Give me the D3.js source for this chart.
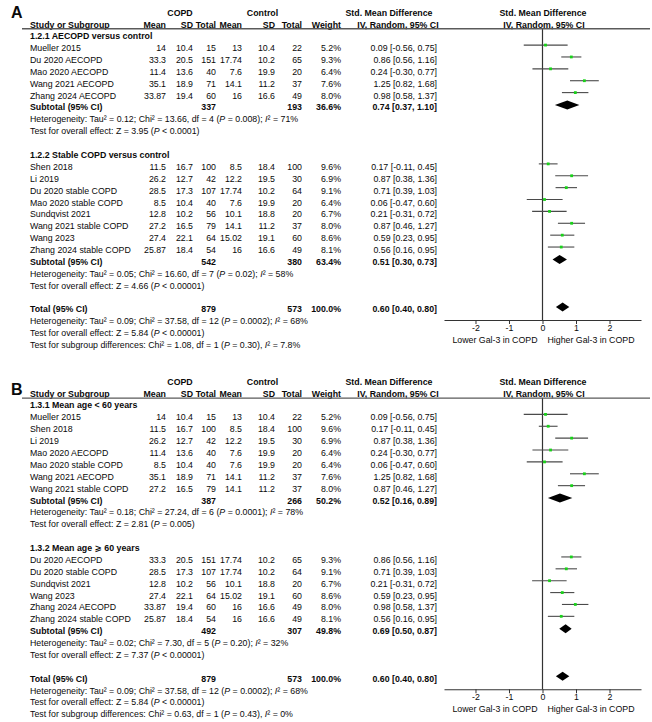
<!DOCTYPE html>
<html>
<head>
<meta charset="utf-8">
<script src="https://cdn.jsdelivr.net/npm/d3@7"></script>
<style>
  html, body { margin: 0; padding: 0; background: #fff; }
  svg text { font-family: "Liberation Sans", Arial, "DejaVu Sans", sans-serif; fill: #0a0a0a; }
</style>
</head>
<body>
<svg id="chart" width="652" height="722"></svg>
<script>
// ---------------- DATA ----------------
const studyNames = ["Mueller 2015","Du 2020 AECOPD","Mao 2020 AECOPD","Wang 2021 AECOPD","Zhang 2024 AECOPD",
  "Shen 2018","Li 2019","Du 2020 stable COPD","Mao 2020 stable COPD","Sundqvist 2021","Wang 2021 stable COPD","Wang 2023","Zhang 2024 stable COPD"];
const copdMean = [14, 33.3, 11.4, 35.1, 33.87, 11.5, 26.2, 28.5, 8.5, 12.8, 27.2, 27.4, 25.87];
const copdSD   = [10.4, 20.5, 13.6, 18.9, 19.4, 16.7, 12.7, 17.3, 10.4, 10.2, 16.5, 22.1, 18.4];
const copdN    = [15, 151, 40, 71, 60, 100, 42, 107, 40, 56, 79, 64, 54];
const ctrlMean = [13, 17.74, 7.6, 14.1, 16, 8.5, 12.2, 17.74, 7.6, 10.1, 14.1, 15.02, 16];
const ctrlSD   = [10.4, 10.2, 19.9, 11.2, 16.6, 18.4, 19.5, 10.2, 19.9, 18.8, 11.2, 19.1, 16.6];
const ctrlN    = [22, 65, 20, 37, 49, 100, 30, 64, 20, 20, 37, 60, 49];
const weightPct= [5.2, 9.3, 6.4, 7.6, 8.0, 9.6, 6.9, 9.1, 6.4, 6.7, 8.0, 8.6, 8.1];
const smd      = [0.09, 0.86, 0.24, 1.25, 0.98, 0.17, 0.87, 0.71, 0.06, 0.21, 0.87, 0.59, 0.56];
const smdLo    = [-0.56, 0.56, -0.30, 0.82, 0.58, -0.11, 0.38, 0.39, -0.47, -0.31, 0.46, 0.23, 0.16];
const smdHi    = [0.75, 1.16, 0.77, 1.68, 1.37, 0.45, 1.36, 1.03, 0.60, 0.72, 1.27, 0.95, 0.95];

const panelLabels  = ["A", "B"];
const groupTitles  = [["1.2.1 AECOPD versus control", "1.2.2 Stable COPD versus control"],
                      ["1.3.1 Mean age < 60 years", "1.3.2 Mean age \u2A7E 60 years"]];
const groupMembers = [[[0,1,2,3,4], [5,6,7,8,9,10,11,12]],
                      [[0,5,6,2,8,3,10], [1,7,9,11,4,12]]];
const subCopdN  = [[337, 542], [387, 492]];
const subCtrlN  = [[193, 380], [266, 307]];
const subWeight = [[36.6, 63.4], [50.2, 49.8]];
const subSmd    = [[0.74, 0.51], [0.52, 0.69]];
const subLo     = [[0.37, 0.30], [0.16, 0.50]];
const subHi     = [[1.10, 0.73], [0.89, 0.87]];
const subTau    = [["0.12", "0.05"], ["0.18", "0.02"]];
const subChi    = [["13.66", "16.60"], ["27.24", "7.30"]];
const subDf     = [[4, 7], [6, 5]];
const subP      = [["= 0.008", "= 0.02"], ["= 0.0001", "= 0.20"]];
const subI2     = [["71%", "58%"], ["78%", "32%"]];
const subZ      = [["3.95", "4.66"], ["2.81", "7.37"]];
const subZP     = [["< 0.0001", "< 0.00001"], ["= 0.005", "< 0.00001"]];

const totCopdN = 879, totCtrlN = 573, totWeight = 100.0;
const totSmd = 0.60, totLo = 0.40, totHi = 0.80;
const totHet = {tau: "0.09", chi: "37.58", df: 12, p: "= 0.0002", i2: "68%", z: "5.84", zp: "< 0.00001"};
const diffChi = ["1.08", "0.63"], diffDf = [1, 1], diffP = ["= 0.30", "= 0.43"], diffI2 = ["7.8%", "0%"];

const axisTicks = [-2, -1, 0, 1, 2];
const axisLeftLabel = "Lower Gal-3 in COPD", axisRightLabel = "Higher Gal-3 in COPD";

// ---------------- LAYOUT ----------------
const FS = 8.8;
const svg = d3.select("#chart");
const panelTop = [0, 369.3];
const letterY = [18.4, 25.4];
const rowY = d3.scaleLinear().domain([0, 1]).range([36, 36 + 11.88]);
const x = d3.scaleLinear().domain([-2.94, 2.94]).range([444, 641]);
const col = {name: 30, cMean: 166, cSD: 193, cN: 216, kMean: 242, kSD: 275, kN: 302, w: 341, smd: 437};
const base = 3.2;   // text baseline offset from row centre
const markOff = -2.8; // forest marks sit slightly above the text centre

const f2 = v => v.toFixed(2);
const ciText = (m, l, h) => `${f2(m)} [${f2(l)}, ${f2(h)}]`;

function text(g, xx, yy, s, opt = {}) {
  return g.append("text").attr("x", xx).attr("y", yy)
    .attr("font-size", opt.size || FS)
    .attr("font-weight", opt.bold ? "bold" : "normal")
    .attr("text-anchor", opt.anchor || "start")
    .text(s);
}
function rich(g, xx, yy, segs) {
  const t = g.append("text").attr("x", xx).attr("y", yy).attr("font-size", FS);
  segs.forEach(([s, it]) => t.append("tspan").attr("font-style", it ? "italic" : "normal").text(s));
  return t;
}
const hetSegs = (tau, chi, df, p, i2) => [[`Heterogeneity: Tau\u00B2 = ${tau}; Chi\u00B2 = ${chi}, df = ${df} (`, false], ["P", true], [` ${p}); `, false], ["I", true], [`\u00B2 = ${i2}`, false]];
const zSegs = (z, zp) => [[`Test for overall effect: Z = ${z} (`, false], ["P", true], [` ${zp})`, false]];

function diamond(g, yc, m, l, h) {
  const hh = 4.5;
  g.append("path")
    .attr("d", `M${x(l)},${yc} L${x(m)},${yc - hh} L${x(h)},${yc} L${x(m)},${yc + hh} Z`)
    .attr("fill", "#000");
}

panelLabels.forEach((lab, p) => {
  const g = svg.append("g").attr("transform", `translate(0,${panelTop[p]})`);
  // Panel letter
  text(g, 11, letterY[p], lab, {size: 16, bold: true});
  // Header
  text(g, 180, 12.7 + base, "COPD", {bold: true, anchor: "middle"});
  text(g, 262.5, 12.7 + base, "Control", {bold: true, anchor: "middle"});
  text(g, 389, 12.7 + base, "Std. Mean Difference", {bold: true, anchor: "middle"});
  text(g, 543, 12.7 + base, "Std. Mean Difference", {bold: true, anchor: "middle"});
  const hy = 24.4 + base;
  text(g, col.name, hy, "Study or Subgroup", {bold: true});
  [["cMean","Mean"],["cSD","SD"],["cN","Total"],["kMean","Mean"],["kSD","SD"],["kN","Total"],["w","Weight"]]
    .forEach(([k, s]) => text(g, col[k], hy, s, {bold: true, anchor: "end"}));
  text(g, 398, hy, "IV, Random, 95% CI", {bold: true, anchor: "middle"});
  text(g, 544, hy, "IV, Random, 95% CI", {bold: true, anchor: "middle"});
  g.append("line").attr("x1", 22).attr("x2", 650).attr("y1", 28.8).attr("y2", 28.8)
    .attr("stroke", "#5a5a5a").attr("stroke-width", 1.4);

  // Rows
  let r = 0;
  const forest = g.append("g");
  groupMembers[p].forEach((mem, gi) => {
    text(g, col.name, rowY(r) + base, groupTitles[p][gi], {bold: true});
    r++;
    mem.forEach(i => {
      const yc = rowY(r), yb = yc + base;
      text(g, col.name, yb, studyNames[i]);
      text(g, col.cMean, yb, String(copdMean[i]), {anchor: "end"});
      text(g, col.cSD, yb, String(copdSD[i]), {anchor: "end"});
      text(g, col.cN, yb, String(copdN[i]), {anchor: "end"});
      text(g, col.kMean, yb, String(ctrlMean[i]), {anchor: "end"});
      text(g, col.kSD, yb, String(ctrlSD[i]), {anchor: "end"});
      text(g, col.kN, yb, String(ctrlN[i]), {anchor: "end"});
      text(g, col.w, yb, weightPct[i].toFixed(1) + "%", {anchor: "end"});
      text(g, col.smd, yb, ciText(smd[i], smdLo[i], smdHi[i]), {anchor: "end"});
      const ym = yc + markOff;
      forest.append("line").attr("x1", x(smdLo[i])).attr("x2", x(smdHi[i]))
        .attr("y1", ym).attr("y2", ym).attr("stroke", "#4a4a4a").attr("stroke-width", 1.1);
      forest.append("rect").attr("x", x(smd[i]) - 1.4).attr("y", ym - 1.4)
        .attr("width", 2.8).attr("height", 2.8).attr("fill", "#19d219");
      r++;
    });
    // Subtotal
    let yb = rowY(r) + base;
    text(g, col.name, yb, "Subtotal (95% CI)", {bold: true});
    text(g, col.cN, yb, String(subCopdN[p][gi]), {bold: true, anchor: "end"});
    text(g, col.kN, yb, String(subCtrlN[p][gi]), {bold: true, anchor: "end"});
    text(g, col.w, yb, subWeight[p][gi].toFixed(1) + "%", {bold: true, anchor: "end"});
    text(g, col.smd, yb, ciText(subSmd[p][gi], subLo[p][gi], subHi[p][gi]), {bold: true, anchor: "end"});
    diamond(forest, rowY(r) + markOff + 0.5, subSmd[p][gi], subLo[p][gi], subHi[p][gi]);
    r++;
    rich(g, col.name, rowY(r) + base, hetSegs(subTau[p][gi], subChi[p][gi], subDf[p][gi], subP[p][gi], subI2[p][gi]));
    r++;
    rich(g, col.name, rowY(r) + base, zSegs(subZ[p][gi], subZP[p][gi]));
    r += 2;
  });
  // Total
  r = 23;
  let yb = rowY(r) + base;
  text(g, col.name, yb, "Total (95% CI)", {bold: true});
  text(g, col.cN, yb, String(totCopdN), {bold: true, anchor: "end"});
  text(g, col.kN, yb, String(totCtrlN), {bold: true, anchor: "end"});
  text(g, col.w, yb, totWeight.toFixed(1) + "%", {bold: true, anchor: "end"});
  text(g, col.smd, yb, ciText(totSmd, totLo, totHi), {bold: true, anchor: "end"});
  diamond(forest, rowY(r) + markOff + 0.5, totSmd, totLo, totHi);
  rich(g, col.name, rowY(24) + base, hetSegs(totHet.tau, totHet.chi, totHet.df, totHet.p, totHet.i2));
  rich(g, col.name, rowY(25) + base, zSegs(totHet.z, totHet.zp));
  rich(g, col.name, rowY(26) + base, [[`Test for subgroup differences: Chi\u00B2 = ${diffChi[p]}, df = ${diffDf[p]} (`, false], ["P", true], [` ${diffP[p]}), `, false], ["I", true], [`\u00B2 = ${diffI2[p]}`, false]]);

  // Zero line and axis
  const axisY = 320;
  g.insert("line", ":first-child").attr("x1", x(0)).attr("x2", x(0)).attr("y1", 28.8).attr("y2", axisY)
    .attr("stroke", "#333").attr("stroke-width", 1.2);
  const ax = g.append("g").attr("transform", `translate(0,${axisY})`)
    .call(d3.axisBottom(x).tickValues(axisTicks).tickSize(4).tickSizeOuter(0).tickFormat(d => String(d)));
  ax.select(".domain").attr("stroke", "#333").attr("stroke-width", 1.1);
  ax.selectAll(".tick line").attr("stroke", "#333");
  ax.selectAll(".tick text").attr("font-size", FS).attr("font-family", null).attr("fill", "#111").attr("dy", null).attr("y", 11.2);
  text(g, x(0) - 5, axisY + 23.2, axisLeftLabel, {anchor: "end"});
  text(g, x(0) + 5, axisY + 23.2, axisRightLabel, {anchor: "start"});
});
</script>
</body>
</html>
